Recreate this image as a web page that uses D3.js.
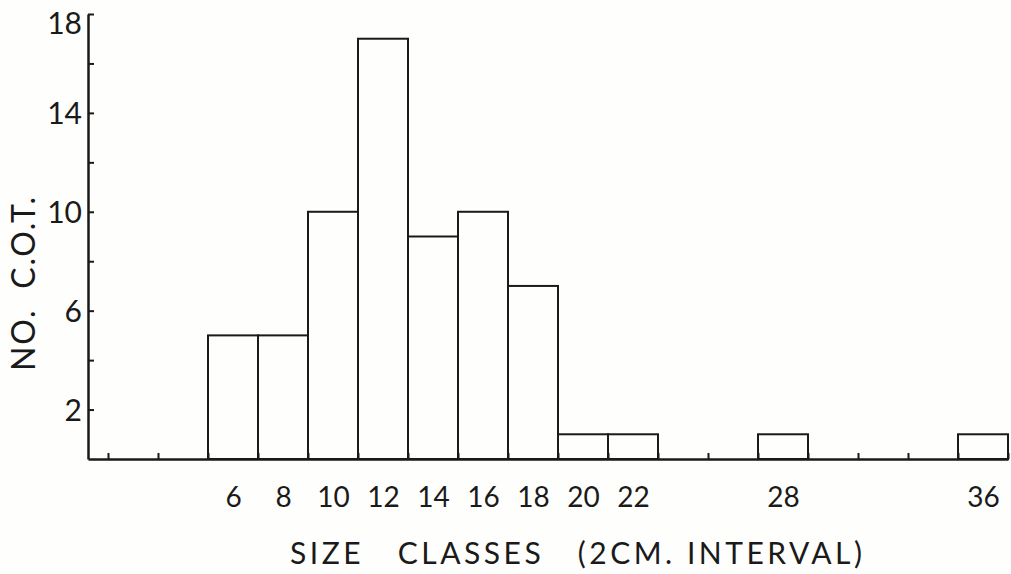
<!DOCTYPE html>
<html>
<head>
<meta charset="utf-8">
<script src="https://cdn.jsdelivr.net/npm/d3@7"></script>
<style>
  html, body { margin: 0; padding: 0; background: #fefefc; }
  svg { display: block; }
  text { font-family: "Lato", "Liberation Sans", sans-serif; font-weight: 400; fill: #1a1a1a; }
  .domain, .tick line { stroke: #1a1a1a; }
</style>
</head>
<body>
<svg id="chart"></svg>
<script>
// size classes (class midpoints, cm) and number of trees in each
const sizeClasses = [6, 8, 10, 12, 14, 16, 18, 20, 22, 28, 36];
const counts = [5, 5, 10, 17, 9, 10, 7, 1, 1, 1, 1];

// axis tick values
const yTicks = [0, 2, 4, 6, 8, 10, 12, 14, 16, 18];
const yTickLabels = [2, 6, 10, 14, 18];
const xTicks = d3.range(1, 38, 2);   // class boundaries
const xTickLabels = [6, 8, 10, 12, 14, 16, 18, 20, 22, 28, 36];

const width = 1011, height = 574;
const svg = d3.select('#chart').attr('width', width).attr('height', height);

const x = d3.scaleLinear().domain([0.2, 37]).range([88, 1008]);
const y = d3.scaleLinear().domain([0, 18]).range([459, 14]);

// bars
svg.append('g')
  .selectAll('rect')
  .data(sizeClasses)
  .enter()
  .append('rect')
  .attr('x', d => x(d - 1))
  .attr('width', d => x(d + 1) - x(d - 1))
  .attr('y', (d, i) => y(counts[i]))
  .attr('height', (d, i) => y(0) - y(counts[i]))
  .attr('fill', '#fefefc')
  .attr('stroke', '#1a1a1a')
  .attr('stroke-width', 2);

// x axis: line with inward ticks at class boundaries
const xAxis = svg.append('g')
  .attr('transform', `translate(0,${y(0)})`)
  .call(d3.axisBottom(x).tickValues(xTicks).tickSize(-6).tickSizeOuter(0).tickFormat(''));
xAxis.select('.domain').attr('stroke-width', 2.5);
xAxis.selectAll('.tick line').attr('stroke-width', 2);

// x labels at class midpoints
const xLab = svg.append('g')
  .attr('transform', `translate(0,${y(0)})`)
  .call(d3.axisBottom(x).tickValues(xTickLabels).tickSize(0).tickPadding(28));
xLab.select('.domain').remove();
xLab.selectAll('text').attr('font-size', 28).attr('font-family', null);

// y axis
const yAxis = svg.append('g')
  .attr('transform', `translate(${x(0.2)},0)`)
  .call(d3.axisLeft(y).tickValues(yTicks).tickSize(-6).tickSizeOuter(0).tickPadding(6)
    .tickFormat(d => yTickLabels.includes(d) ? d : ''));
yAxis.select('.domain').attr('stroke-width', 2.5);
yAxis.selectAll('.tick line').attr('stroke-width', 2);
yAxis.selectAll('.tick').filter(d => d === 0).select('line').remove();
yAxis.selectAll('text').attr('font-size', 30).attr('font-family', null)
  .attr('dy', d => d === 18 ? '0.65em' : '0.35em');

// axis titles
svg.append('text')
  .attr('x', 290)
  .attr('y', 564)
  .attr('font-size', 30)
  .attr('textLength', 572)
  .attr('lengthAdjust', 'spacing')
  .style('white-space', 'pre')
  .text('SIZE   CLASSES   (2CM. INTERVAL)');

svg.append('text')
  .attr('transform', 'translate(35,371) rotate(-90)')
  .attr('font-size', 32)
  .attr('textLength', 174)
  .attr('lengthAdjust', 'spacing')
  .style('white-space', 'pre')
  .text('NO.  C.O.T.');
</script>
</body>
</html>
